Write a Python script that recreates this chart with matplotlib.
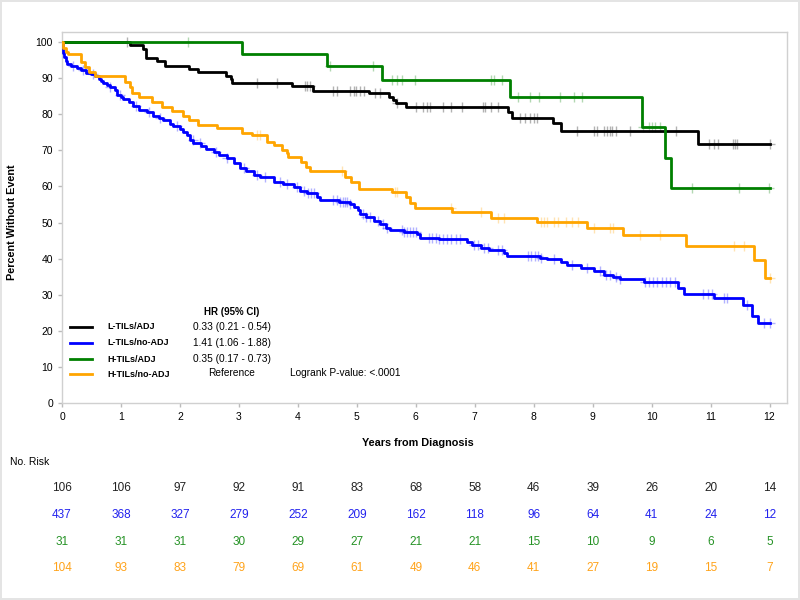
import numpy as np
import matplotlib
matplotlib.use("Agg")
import matplotlib.pyplot as plt
from matplotlib.transforms import blended_transform_factory

plt.rcParams['font.family'] = ['Liberation Sans', 'DejaVu Sans']

# Kaplan-Meier curves: step times (years) and percent without event
names = ['L-TILs/ADJ', 'L-TILs/no-ADJ', 'H-TILs/ADJ', 'H-TILs/no-ADJ']
colors = ['#000000', '#0000ff', '#008000', '#ffa500']
risk_colors = ['#222222', '#2222ee', '#259225', '#ffa31a']

black_t = [0, 1.15, 1.37, 1.42, 1.61, 1.75, 2.15, 2.31, 2.78, 2.86, 2.89, 3.90, 4.26,
           5.20, 5.54, 5.61, 5.66, 5.84, 7.57, 7.63, 8.32, 8.47, 10.79]
black_s = [100, 99.1, 98.2, 95.5, 94.7, 93.4, 92.5, 91.6, 90.7, 89.8, 88.6, 87.8, 86.5,
           85.8, 84.8, 83.9, 83.2, 82.1, 80.7, 79.0, 77.5, 75.3, 71.7]
black_c = [1.10, 3.30, 3.65, 4.12, 4.16, 4.21, 4.60, 4.67, 4.89, 4.95, 4.99, 5.05, 5.12,
           5.31, 5.40, 5.68, 6.01, 6.13, 6.19, 6.25, 6.46, 6.59, 6.79, 7.14, 7.18, 7.27,
           7.39, 7.76, 7.85, 7.93, 8.00, 8.06, 8.74, 9.02, 9.08, 9.19, 9.25, 9.29, 9.33,
           9.39, 9.63, 10.41, 10.97, 11.06, 11.13, 11.38, 11.41, 11.45, 12.0]

blue_t = [0, 0.01, 0.02, 0.04, 0.06, 0.09, 0.16, 0.25, 0.33, 0.41, 0.50, 0.56, 0.62, 0.66,
          0.70, 0.76, 0.81, 0.90, 0.94, 1.00, 1.04, 1.13, 1.21, 1.30, 1.44, 1.55, 1.64,
          1.72, 1.83, 1.89, 2.00, 2.06, 2.12, 2.17, 2.23, 2.35, 2.45, 2.57, 2.66, 2.80,
          2.91, 3.02, 3.12, 3.25, 3.35, 3.59, 3.75, 3.93, 4.04, 4.15, 4.32, 4.38, 4.70,
          4.89, 4.95, 5.02, 5.06, 5.15, 5.29, 5.40, 5.50, 5.57, 5.80, 6.02, 6.08, 6.40,
          6.87, 6.95, 7.10, 7.25, 7.49, 7.55, 8.10, 8.23, 8.46, 8.57, 8.80, 9.02, 9.20,
          9.35, 9.47, 9.87, 10.44, 10.55, 11.06, 11.55, 11.71, 11.80]
blue_s = [100, 98.5, 97.0, 95.8, 94.8, 94.0, 93.5, 92.9, 92.3, 91.5, 91.1, 90.6, 89.8, 89.2,
          88.6, 88.0, 87.5, 86.7, 85.4, 84.7, 84.1, 83.3, 82.2, 81.2, 80.6, 79.6, 78.9,
          78.4, 77.3, 76.8, 75.8, 75.2, 74.2, 73.0, 72.1, 71.3, 70.5, 69.6, 68.8, 67.8,
          66.4, 65.2, 64.3, 63.2, 62.5, 61.3, 60.6, 59.9, 58.8, 58.3, 57.1, 56.2, 55.8,
          55.2, 54.4, 53.5, 52.5, 51.6, 50.5, 49.6, 48.6, 47.9, 47.4, 46.8, 45.8, 45.4,
          44.7, 43.9, 42.9, 42.3, 41.5, 40.7, 40.3, 39.8, 39.2, 38.3, 37.4, 36.5, 35.6,
          34.9, 34.3, 33.6, 32.0, 30.2, 29.0, 27.2, 24.0, 22.2]
blue_c = [0.18, 0.35, 0.52, 0.81, 0.98, 1.25, 1.48, 1.66, 1.95, 2.22, 2.34, 2.62, 2.80,
          3.08, 3.31, 3.45, 3.70, 3.81, 3.98, 4.10, 4.18, 4.22, 4.27, 4.60, 4.66, 4.71,
          4.76, 4.80, 4.84, 4.89, 5.10, 5.16, 5.22, 5.36, 5.44, 5.52, 5.76, 5.80, 5.85,
          5.90, 5.95, 6.00, 6.22, 6.28, 6.34, 6.40, 6.47, 6.53, 6.60, 6.68, 6.75, 6.98,
          7.05, 7.15, 7.22, 7.40, 7.47, 7.90, 7.95, 8.02, 8.08, 8.12, 8.34, 8.65, 8.90,
          9.13, 9.22, 9.30, 9.40, 9.47, 9.88, 9.95, 10.02, 10.10, 10.18, 10.25, 10.32,
          10.40, 10.88, 10.95, 11.03, 11.22, 11.28, 11.62, 11.90, 12.0]

green_t = [0, 3.06, 4.49, 5.43, 7.59, 9.84, 10.22, 10.33]
green_s = [100, 96.7, 93.5, 89.6, 84.8, 76.5, 67.9, 59.6]
green_c = [2.13, 4.55, 5.28, 5.60, 5.68, 5.77, 5.98, 7.28, 7.32, 7.47, 7.73, 7.93, 8.09,
           8.44, 8.69, 8.82, 9.86, 9.95, 10.01, 10.05, 10.15, 10.69, 11.48, 11.99]

orange_t = [0, 0.02, 0.06, 0.10, 0.33, 0.39, 0.45, 0.56, 1.07, 1.15, 1.18, 1.30, 1.52,
            1.69, 1.86, 2.05, 2.15, 2.31, 2.63, 3.05, 3.22, 3.48, 3.59, 3.73, 3.81, 3.84,
            4.05, 4.14, 4.21, 4.80, 4.90, 5.03, 5.60, 5.84, 5.91, 5.98, 6.62, 7.27, 8.05,
            8.90, 9.52, 10.58, 11.73, 11.92]
orange_s = [100, 98.5, 97.3, 96.8, 94.5, 93.2, 91.8, 90.6, 89.0, 87.6, 85.8, 84.8, 83.5,
            82.1, 81.0, 79.5, 78.5, 77.0, 76.2, 74.9, 74.2, 72.4, 71.5, 70.1, 69.2, 68.2,
            66.8, 65.5, 64.4, 62.5, 61.3, 59.2, 58.5, 57.0, 55.5, 54.0, 52.8, 51.3, 50.2,
            48.4, 46.5, 43.6, 39.6, 34.7]
orange_c = [3.30, 3.35, 4.75, 5.65, 5.68, 6.59, 7.10, 7.39, 7.49, 8.12, 8.17, 8.23, 8.34,
            8.42, 8.55, 8.65, 8.75, 9.02, 9.30, 9.35, 9.81, 10.15, 11.39, 11.56, 12.0]

end_time = 12.0

hr_text = ['0.33 (0.21 - 0.54)', '1.41 (1.06 - 1.88)', '0.35 (0.17 - 0.73)', 'Reference']
pvalue_text = 'Logrank P-value: <.0001'

risk_times = list(range(13))
risk_black = [106, 106, 97, 92, 91, 83, 68, 58, 46, 39, 26, 20, 14]
risk_blue = [437, 368, 327, 279, 252, 209, 162, 118, 96, 64, 41, 24, 12]
risk_green = [31, 31, 31, 30, 29, 27, 21, 21, 15, 10, 9, 6, 5]
risk_orange = [104, 93, 83, 79, 69, 61, 49, 46, 41, 27, 19, 15, 7]

curves = [(black_t, black_s, black_c), (blue_t, blue_s, blue_c),
          (green_t, green_s, green_c), (orange_t, orange_s, orange_c)]
risks = [risk_black, risk_blue, risk_green, risk_orange]

fig = plt.figure(figsize=(8, 6), dpi=100)
fig.patch.set_edgecolor('#e4e4e4')
fig.patch.set_linewidth(1.5)
ax = fig.add_axes([0.0775, 0.3283, 0.9065, 0.6184])

# green drawn last so it sits over black at 100%
order = [3, 1, 0, 2]
for i in order:
    t, s, c = curves[i]
    tt = np.append(t, end_time)
    ss = np.append(s, s[-1])
    ax.step(tt, ss, where='post', color=colors[i], lw=2.0, zorder=3 + i * 0.1)
    idx = np.searchsorted(np.array(t), np.array(c), side='right') - 1
    ax.plot(c, np.array(s)[idx], '+', color=colors[i], alpha=0.3, ms=7, mew=1.0, zorder=2)

ax.set_xlim(0, 12.3)
ax.set_ylim(0, 102.8)
ax.set_xticks(range(13))
ax.set_yticks(range(0, 101, 10))
ax.tick_params(labelsize=7.5, length=3, color='#bbbbbb', width=1)
for sp in ax.spines.values():
    sp.set_color('#d0d0d0')
    sp.set_linewidth(1)

ax.set_xlabel('Years from Diagnosis', fontsize=7.8, fontweight='bold')
ax.xaxis.set_label_coords(0.491, -0.094)
ax.set_ylabel('Percent Without Event', fontsize=7.8, fontweight='bold')
ax.yaxis.set_label_coords(-0.062, 0.488)

# legend block with hazard ratios
ax.text(0.2345, 0.246, 'HR (95% CI)', transform=ax.transAxes, fontsize=7,
        fontweight='bold', ha='center', va='center')
row_y = [0.2057, 0.1625, 0.1186, 0.0774]
for i in range(4):
    ax.plot([0.011, 0.041], [row_y[i]] * 2, color=colors[i], lw=2.0,
            transform=ax.transAxes, clip_on=False)
    ax.text(0.062, row_y[i], names[i], transform=ax.transAxes, fontsize=6.5,
            fontweight='bold', ha='left', va='center')
    ax.text(0.2345, row_y[i] + (0.004 if i == 3 else 0), hr_text[i], transform=ax.transAxes,
            fontsize=7.3, ha='center', va='center')
ax.text(0.3145, row_y[3] + 0.004, pvalue_text, transform=ax.transAxes, fontsize=7.3,
        ha='left', va='center')

# number at risk table
trans = blended_transform_factory(ax.transData, fig.transFigure)
narrow = ['Liberation Sans Narrow', 'Liberation Sans', 'DejaVu Sans']
fig.text(0.0125, 0.23, 'No. Risk', fontsize=7.5, ha='left', va='center', family=narrow)
risk_y = [0.1867, 0.1417, 0.0967, 0.0533]
for i in range(4):
    for x, n in zip(risk_times, risks[i]):
        fig.text(x, risk_y[i], str(n), transform=trans, fontsize=8.5, ha='center',
                 va='center', color=risk_colors[i], family=narrow)

fig.savefig('out.png', dpi=100, edgecolor=fig.get_edgecolor())
